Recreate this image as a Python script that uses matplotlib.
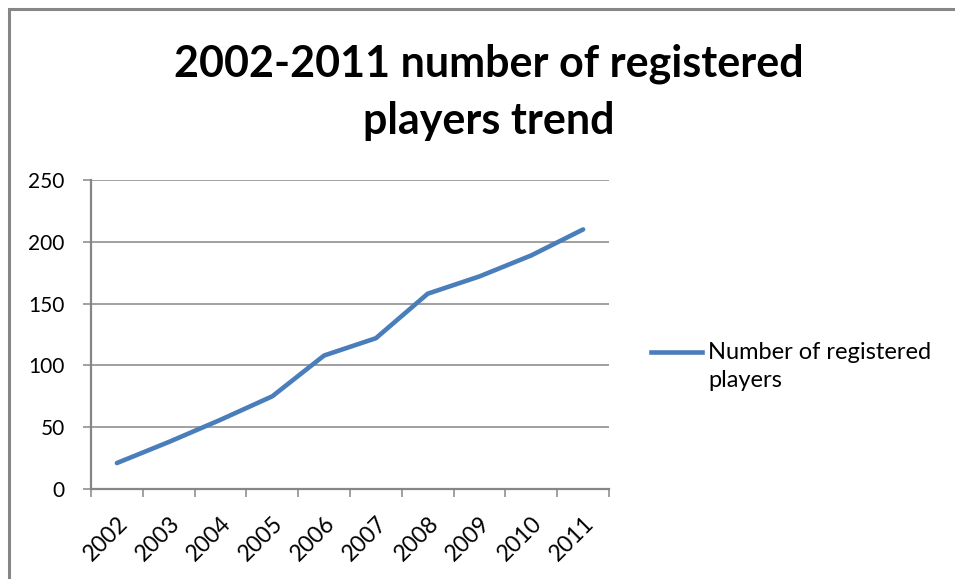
import matplotlib
matplotlib.use('Agg')
import matplotlib.pyplot as plt
from matplotlib.lines import Line2D
from matplotlib.patches import Rectangle
import numpy as np

# registered players per year
years = ['2002', '2003', '2004', '2005', '2006', '2007', '2008', '2009', '2010', '2011']
players = [21, 38, 56, 75, 108, 122, 158, 172, 189, 210]
y_ticks = [0, 50, 100, 150, 200, 250]

title_lines = ["2002-2011 number of registered", "players trend"]
series_name = "Number of registered\nplayers"

line_col = '#4A7EBB'
grey = '#868686'

plt.rcParams['font.family'] = ['Lato', 'DejaVu Sans']

fig = plt.figure(figsize=(9.55, 5.79), dpi=100)
ax = fig.add_axes([91/955, 90/579, 518/955, 309/579])

x = np.arange(len(years))
ax.plot(x, players, color=line_col, lw=3.3, solid_capstyle='round', solid_joinstyle='round')

ax.set_xlim(-0.5, len(years) - 0.5)
ax.set_ylim(0, 250)
ax.set_yticks(y_ticks)
ax.set_yticklabels([str(v) for v in y_ticks], fontsize=15)
ax.grid(axis='y', color=grey, lw=1.1)
ax.set_axisbelow(True)

ax.set_xticks(x)
ax.set_xticklabels(years, rotation=45, ha='right', rotation_mode='anchor', fontsize=16.5)
ax.set_xticks(np.arange(len(years) + 1) - 0.5, minor=True)
ax.tick_params(axis='x', which='major', length=0, pad=17)
ax.tick_params(axis='x', which='minor', length=6, color=grey, width=1.1)
ax.tick_params(axis='y', length=6, color=grey, width=1.1, pad=13)

for s in ['top', 'right']:
    ax.spines[s].set_visible(False)
for s in ['left', 'bottom']:
    ax.spines[s].set_color(grey)
    ax.spines[s].set_linewidth(1.6)

fig.text(489/955, 1 - 76/579, title_lines[0], ha='center', va='baseline',
         fontsize=31, fontweight='bold')
fig.text(489/955, 1 - 134/579, title_lines[1], ha='center', va='baseline',
         fontsize=31, fontweight='bold')

# legend drawn by hand so the key sits on the first text line
fig.add_artist(Line2D([651/955, 702/955], [1 - 352/579] * 2, color=line_col, lw=3.3,
                      transform=fig.transFigure))
fig.text(708/955, 1 - 342/579, series_name, ha='left', va='top', fontsize=17,
         linespacing=1.4)

fig.add_artist(Rectangle((9/955, -0.5), 2, 1.5 - 9/579, transform=fig.transFigure,
                         fill=False, edgecolor=grey, lw=2.2))

fig.savefig('out.png', dpi=100)
